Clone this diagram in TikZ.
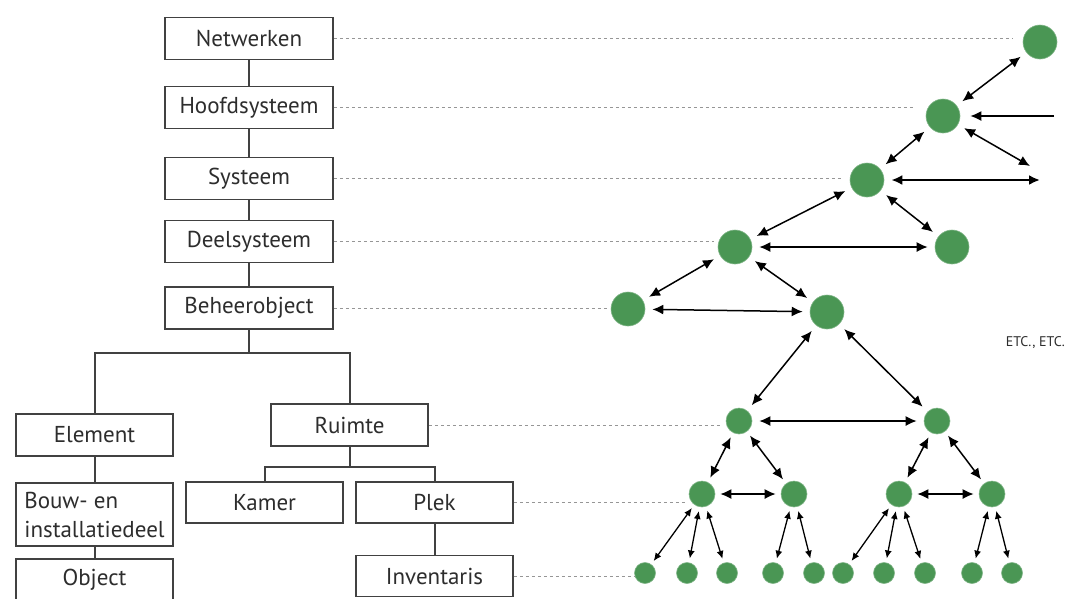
\documentclass[tikz,border=0pt]{standalone}
\usepackage{fontspec}
\setmainfont{PT Sans}
\usetikzlibrary{arrows.meta}

\definecolor{leaf}{RGB}{74,150,84}
\definecolor{frame}{RGB}{65,65,65}
\definecolor{ink}{RGB}{45,45,45}
\definecolor{guide}{RGB}{150,150,150}

\tikzset{
  box/.style={draw=frame, line width=1.6pt, fill=white, text=ink, minimum width=157pt, minimum height=42pt,
    inner sep=2pt, align=left, font=\fontsize{23}{29}\selectfont},
  wide/.style={minimum width=168pt},
  tie/.style={draw=frame, line width=2pt},
  guideline/.style={draw=guide, line width=0.8pt, dash pattern=on 3pt off 3pt},
  dot/.style={circle, fill=leaf, draw=leaf!70!white, line width=0.6pt, minimum size=34pt, inner sep=0pt},
  middot/.style={dot, minimum size=26pt},
  smalldot/.style={dot, minimum size=21pt},
  link/.style={{Latex[length=11pt,width=10pt]}-{Latex[length=11pt,width=10pt]}, line width=1.5pt,
    shorten <=7pt, shorten >=7pt},
  thinlink/.style={{Latex[length=8pt,width=7pt]}-{Latex[length=8pt,width=7pt]}, line width=1.3pt,
    shorten <=4pt, shorten >=4pt}
}

\begin{document}
\begin{tikzpicture}[x=1pt,y=-1pt]
\path[use as bounding box] (0,0) rectangle (1066,598);
\clip (0,0) rectangle (1066,598);

% main column of boxes
\node[box,wide] (netwerken) at (249,38.5) {Netwerken};
\node[box,wide] (hoofdsysteem) at (249,107.5) {Hoofdsysteem};
\node[box,wide] (systeem) at (249,178.5) {Systeem};
\node[box,wide] (deelsysteem) at (249,241.5) {Deelsysteem};
\node[box,wide] (beheerobject) at (249,308) {Beheerobject};

% branches below
\node[box] (element) at (94.5,435) {Element};
\node[box,minimum height=63pt] (bouwdeel) at (94.5,514.5) {Bouw- en\\installatiedeel};
\node[box] (object) at (94.5,580) {Object};
\node[box] (ruimte) at (349.5,425) {Ruimte};
\node[box,minimum height=41pt] (kamer) at (264.5,502.5) {Kamer};
\node[box,minimum height=41pt] (plek) at (434.5,502.5) {Plek};
\node[box,minimum height=41pt] (inventaris) at (434.5,576) {Inventaris};

\draw[tie] (netwerken) -- (hoofdsysteem);
\draw[tie] (hoofdsysteem) -- (systeem);
\draw[tie] (systeem) -- (deelsysteem);
\draw[tie] (deelsysteem) -- (beheerobject);
\coordinate (split) at (249,353);
\draw[tie] (beheerobject) -- (split);
\draw[tie] (element.north) |- (split) -| (ruimte.north);
\coordinate (split2) at (349.5,467);
\draw[tie] (ruimte) -- (split2);
\draw[tie] (kamer.north) |- (split2) -| (plek.north);
\draw[tie] (element) -- (bouwdeel);
\draw[tie] (bouwdeel) -- (object);
\draw[tie] (plek) -- (inventaris);

% network of dots
\node[dot] (dnet) at (1040,42) {};
\node[dot] (dhoofd) at (943,116) {};
\node[dot] (dsys) at (867,180) {};
\node[dot] (ddeel) at (735,247) {};
\node[dot] (ddeel2) at (952,247) {};
\node[dot] (dbeheer) at (628,309) {};
\node[dot] (dbeheer2) at (827,312) {};
\node[middot] (druimte) at (739,421) {};
\node[middot] (druimte2) at (937,421) {};
\foreach \x [count=\i] in {702,794,899,992}
  \node[middot] (dplek\i) at (\x,494) {};
\foreach \x [count=\i] in {645,687,727,773,814,843,884,925,972,1012}
  \node[smalldot] (dinv\i) at (\x,573) {};

% dashed guides from the boxes
\draw[guideline] (netwerken.east) -- ([xshift=-10pt]netwerken.east -| dnet.west);
\draw[guideline] (hoofdsysteem.east) -- ([xshift=-10pt]hoofdsysteem.east -| dhoofd.west);
\draw[guideline] (systeem.east) -- ([xshift=-8pt]systeem.east -| dsys.west);
\draw[guideline] (deelsysteem.east) -- ([xshift=-4pt]deelsysteem.east -| ddeel.west);
\draw[guideline] (beheerobject.east) -- ([xshift=-4pt]beheerobject.east -| dbeheer.west);
\draw[guideline] (ruimte.east) -- ([xshift=-3pt]ruimte.east -| druimte.west);
\draw[guideline] (plek.east) -- ([xshift=-4pt]plek.east -| dplek1.west);
\draw[guideline] (inventaris.east) -- (inventaris.east -| dinv1.west);

% arrows between dots
\foreach \a/\b in {dnet/dhoofd, dhoofd/dsys, dsys/ddeel, dsys/ddeel2, ddeel/ddeel2,
    ddeel/dbeheer, ddeel/dbeheer2, dbeheer/dbeheer2, dbeheer2/druimte, dbeheer2/druimte2,
    druimte/druimte2}
  \draw[link] (\a) -- (\b);
\foreach \a/\b in {druimte/dplek1, druimte/dplek2, druimte2/dplek3, druimte2/dplek4,
    dplek1/dplek2, dplek3/dplek4}
  \draw[link,shorten <=5pt,shorten >=5pt] (\a) -- (\b);
\foreach \a/\b in {dplek1/dinv1, dplek1/dinv2, dplek1/dinv3, dplek2/dinv4, dplek2/dinv5,
    dplek3/dinv6, dplek3/dinv7, dplek3/dinv8, dplek4/dinv9, dplek4/dinv10}
  \draw[thinlink] (\a) -- (\b);

% loose ends
\coordinate (feed) at (1054,116);
\coordinate (rest1) at (1030,166);
\coordinate (rest2) at (1040,180);
\draw[-{Latex[length=11pt,width=10pt]}, line width=1.5pt, shorten >=10pt] (feed) -- (dhoofd);
\draw[link, shorten >=0pt] (dhoofd) -- (rest1);
\draw[link, line width=2.2pt, shorten >=0pt] (dsys) -- (rest2);

\node[anchor=east, inner sep=0pt, text=ink, font=\fontsize{14}{16}\selectfont] (etc) at (1065,343) {ETC., ETC.};
\end{tikzpicture}
\end{document}
